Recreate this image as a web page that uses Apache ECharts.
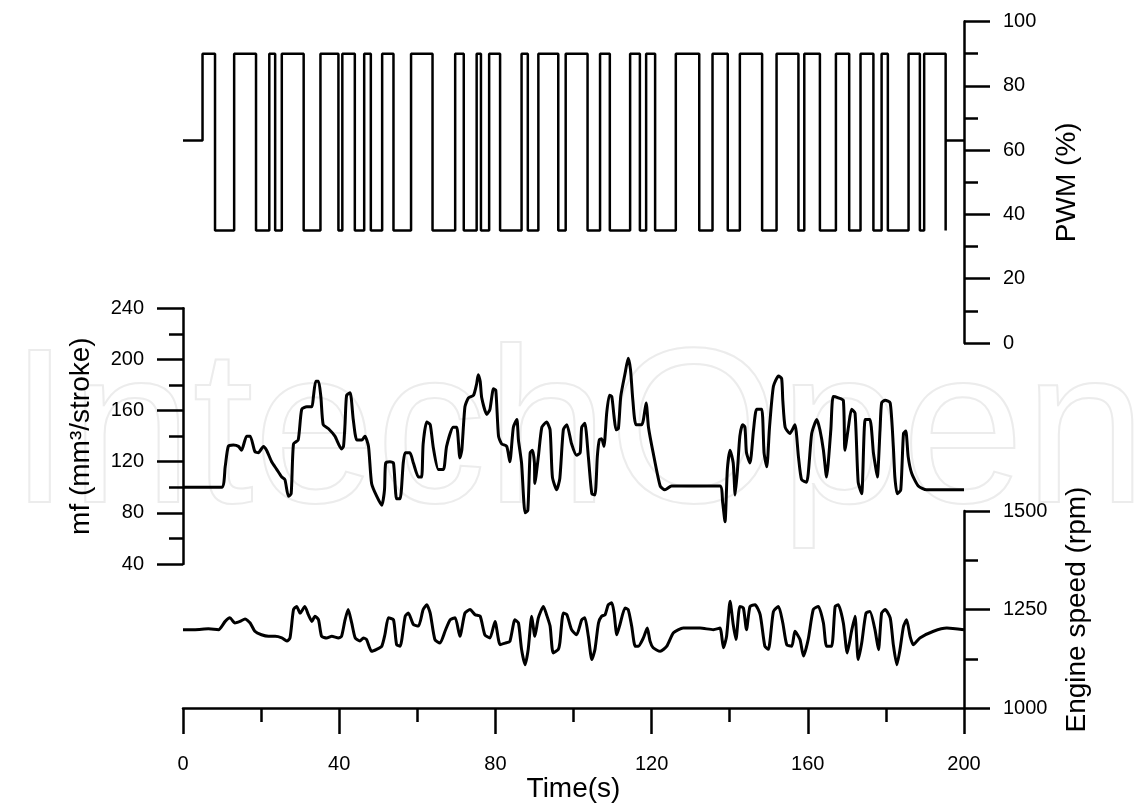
<!DOCTYPE html>
<html>
<head>
<meta charset="utf-8">
<title>PWM, fuel mass and engine speed</title>
<script src="https://cdn.jsdelivr.net/npm/echarts@6/dist/echarts.min.js"></script>
<style>
  html, body { margin: 0; padding: 0; background: #fff; }
  #chart { width: 1140px; height: 804px; }
</style>
</head>
<body>
<div id="chart"></div>
<script>
// PWM duty: value holds from each time until the next one
const pwmTime = [0, 5, 8.2, 13.1, 18.7, 22.1, 23.6, 25.3, 30.9, 35.2, 39.8, 40.8, 44.0, 46.4, 48.1, 51.0,
  53.9, 58.4, 63.9, 69.7, 71.9, 75.2, 76.3, 78.4, 81.2, 86.7, 88.3, 91.0, 96.1, 98.0, 103.6, 106.8,
  109.3, 114.5, 117.0, 118.6, 120.9, 126.2, 132.2, 135.6, 139.5, 142.6, 148.3, 152.0, 157.6, 159.1,
  163.1, 167.2, 170.6, 173.5, 176.8, 178.9, 180.5, 185.8, 188.7, 189.8, 195.3, 195.3, 200]
const pwmValue = [63, 90, 35, 90, 35, 90, 35, 90, 35, 90, 35, 90, 35, 90, 35, 90,
  35, 90, 35, 90, 35, 90, 35, 90, 35, 90, 35, 90, 35, 90, 35, 90,
  35, 90, 35, 90, 35, 90, 35, 90, 35, 90, 35, 90, 35, 90,
  35, 90, 35, 90, 35, 90, 35, 90, 35, 90, 35, 63, 63]

// fuel mass per stroke
const mfTime = [0, 9.9, 10.8, 11.6, 12.9, 14.2, 15.0, 16.3, 17.2, 18.4, 19.3, 20.6, 21.4, 22.7, 24.0, 25.3,
  26.1, 27.0, 27.7, 28.3, 29.5, 30.4, 31.7, 33.0, 33.4, 34.0, 34.7, 35.3, 35.9, 37.2, 38.9, 40.6,
  41.1, 41.5, 41.9, 42.8, 43.6, 44.5, 45.8, 46.6, 47.5, 48.3, 49.6, 50.9, 51.6, 51.9, 53.0, 53.9,
  54.7, 55.6, 56.4, 56.9, 58.1, 59.0, 60.3, 61.1, 61.5, 62.4, 63.3, 64.1, 65.4, 66.7, 67.5, 69.2,
  70.1, 70.9, 71.4, 72.2, 73.1, 74.4, 75.2, 75.6, 76.1, 76.5, 77.8, 78.6, 79.5, 80.1, 80.8, 81.6,
  82.9, 83.7, 84.6, 85.5, 85.9, 86.7, 87.6, 88.3, 88.9, 89.5, 90.0, 90.1, 91.0, 91.9, 93.1, 94.0,
  94.6, 95.7, 96.5, 97.4, 98.3, 99.5, 100.8, 101.7, 102.1, 102.9, 103.8, 104.7, 105.5, 106.1,
  106.6, 107.2, 107.8, 108.5, 109.2, 109.8, 110.4, 110.9, 111.5, 112.1, 113.2, 114.0, 114.6,
  115.2, 116.0, 117.5, 118.6, 119.2, 120.4, 122.2, 123.4, 125.1, 127.3, 137.5, 138.2, 138.8,
  139.4, 140.1, 140.9, 141.4, 142.0, 142.6, 143.3, 143.9, 144.3, 145.2, 146.1, 146.9, 148.2,
  148.8, 149.5, 150.2, 151.2, 152.5, 153.3, 153.6, 154.2, 155.4, 156.7, 157.6, 158.4, 159.7,
  161.0, 162.3, 163.1, 164.0, 164.8, 165.9, 166.5, 167.8, 169.1, 169.5, 170.4, 171.2, 172.1,
  172.9, 173.8, 174.7, 175.9, 176.8, 177.2, 177.8, 178.5, 178.9, 179.8, 181.1, 181.9, 182.3,
  182.9, 183.8, 184.5, 185.1, 185.7, 186.6, 188.3, 190.4, 200]
const mfValue = [100, 100, 116, 132, 133, 132, 129, 140, 140, 128, 127, 132, 129, 120, 114, 108,
  106, 93, 95, 134, 137, 161, 163, 163, 171, 183, 183, 171, 149, 146, 140, 130,
  132, 150, 172, 174, 153, 137, 137, 140, 132, 103, 93, 86, 98, 119, 120, 119,
  91, 91, 119, 127, 127, 119, 108, 108, 134, 151, 149, 131, 114, 114, 132, 147,
  147, 123, 129, 163, 170, 172, 181, 188, 183, 170, 157, 161, 177, 176, 140, 134,
  132, 120, 147, 153, 137, 119, 80, 82, 127, 129, 119, 103, 124, 147, 151, 145,
  108, 98, 107, 145, 149, 134, 125, 127, 147, 150, 124, 95, 94, 124,
  137, 138, 132, 158, 172, 171, 155, 145, 146, 171, 189, 201, 192,
  168, 149, 149, 166, 147, 127, 101, 98, 101, 101, 101, 88, 73,
  114, 129, 119, 94, 114, 140, 149, 147, 127, 119, 145, 161, 161,
  127, 116, 147, 179, 187, 185, 168, 147, 142, 149, 124, 106, 104,
  142, 153, 145, 129, 108, 145, 171, 170, 168, 129, 147, 161, 158,
  104, 95, 153, 153, 127, 119, 108, 145, 166, 168, 166, 132, 108,
  95, 98, 142, 144, 124, 111, 101, 98, 98]

// engine speed
const speedTime = [0, 3.1, 6.5, 9.1, 10.8, 12.0, 13.3, 14.6, 15.9, 17.2, 18.4, 20.1, 21.9, 23.6, 25.3, 26.6,
  27.4, 28.3, 29.1, 30.0, 31.2, 32.1, 33.0, 33.8, 34.7, 35.5, 36.8, 38.1, 39.8, 40.6, 41.5, 42.3,
  43.2, 44.1, 45.3, 46.2, 47.0, 48.3, 49.6, 50.9, 51.7, 52.6, 53.9, 54.7, 55.6, 56.9, 57.7, 59.0,
  60.3, 61.5, 62.4, 63.3, 64.5, 65.8, 67.1, 68.4, 69.7, 70.9, 72.2, 73.5, 74.8, 76.1, 77.3, 78.6,
  79.9, 81.2, 82.5, 83.7, 85.0, 85.9, 86.7, 87.6, 88.4, 89.3, 90.1, 91.0, 92.3, 93.1, 94.0, 94.8,
  96.1, 96.5, 97.4, 98.3, 99.5, 100.8, 102.1, 102.9, 103.8, 104.7, 105.5, 106.4, 107.2, 108.1,
  108.9, 109.8, 110.4, 111.1, 111.9, 113.2, 114.0, 114.9, 115.8, 116.6, 117.9, 118.9, 119.6,
  120.4, 122.2, 123.9, 125.6, 128.1, 132.4, 135.8, 137.5, 138.4, 139.2, 140.1, 140.9, 141.6,
  142.6, 143.5, 144.3, 145.2, 146.5, 147.8, 149.0, 149.9, 151.2, 152.5, 153.6, 154.6, 155.9,
  156.7, 158.0, 158.9, 160.1, 161.4, 162.7, 164.0, 164.8, 166.1, 167.0, 167.8, 169.1, 170.1,
  171.2, 172.1, 172.9, 173.8, 174.9, 175.9, 177.2, 178.1, 178.9, 179.8, 181.1, 181.9, 182.8,
  183.6, 184.5, 185.3, 186.2, 187.0, 188.7, 192.2, 195.6, 200]
const speedValue = [1199, 1199, 1201, 1199, 1220, 1229, 1216, 1220, 1226, 1216, 1195, 1186, 1182, 1182, 1178, 1170,
  1178, 1250, 1258, 1241, 1258, 1237, 1220, 1233, 1224, 1182, 1178, 1182, 1178, 1182, 1224, 1250,
  1216, 1178, 1170, 1178, 1174, 1144, 1149, 1157, 1186, 1229, 1224, 1161, 1157, 1233, 1241, 1212,
  1208, 1250, 1262, 1241, 1174, 1165, 1195, 1224, 1229, 1182, 1241, 1250, 1237, 1233, 1186, 1178,
  1220, 1161, 1165, 1169, 1224, 1216, 1149, 1110, 1149, 1233, 1182, 1229, 1258, 1237, 1208, 1140,
  1149, 1165, 1241, 1237, 1199, 1186, 1224, 1229, 1182, 1123, 1149, 1216, 1233, 1237,
  1262, 1267, 1241, 1186, 1212, 1254, 1250, 1208, 1157, 1157, 1178, 1203, 1170,
  1153, 1144, 1157, 1191, 1203, 1203, 1199, 1203, 1153, 1182, 1271, 1212, 1174,
  1258, 1254, 1199, 1258, 1262, 1237, 1157, 1149, 1245, 1258, 1216, 1161, 1157,
  1195, 1174, 1132, 1174, 1250, 1258, 1216, 1157, 1157, 1258, 1262, 1216, 1140,
  1195, 1233, 1123, 1165, 1241, 1245, 1199, 1148, 1241, 1250, 1229, 1161, 1110,
  1148, 1207, 1224, 1182, 1161, 1178, 1195, 1203, 1199]

const pairs = (xs, ys) => xs.map((x, i) => [x, ys[i]])

const font = '"Liberation Sans", Arial, Helvetica, sans-serif'
const ink = { color: '#000', width: 2.5 }

function axisBase(extra) {
  return Object.assign({
    type: 'value',
    axisLine: { show: true, onZero: false, lineStyle: ink },
    axisTick: { show: true, inside: false, length: 26, lineStyle: ink },
    minorTick: { show: true, splitNumber: 2, length: 14, lineStyle: ink },
    axisLabel: { color: '#000', fontSize: 20, fontFamily: font, margin: 39, formatter: v => String(v) },
    splitLine: { show: false },
    minorSplitLine: { show: false },
    nameLocation: 'middle',
    nameTextStyle: { color: '#000', fontSize: 28, fontFamily: font }
  }, extra)
}

const chart = echarts.init(document.getElementById('chart'))

const option = {
  backgroundColor: '#fff',
  animation: false,
  graphic: [{
    type: 'text',
    left: 8,
    top: 330,
    z: -10,
    silent: true,
    style: {
      text: 'IntechOpen',
      font: '220px "Liberation Sans", Arial, sans-serif',
      fill: 'none',
      stroke: '#ececec',
      lineWidth: 2
    }
  }],
  grid: [
    { left: 183, right: 176, top: 21.5, height: 321.5 },
    { left: 183, right: 176, top: 308.3, height: 255.7 },
    { left: 183, right: 176, top: 511, height: 197.7 }
  ],
  xAxis: [
    { type: 'value', gridIndex: 0, min: 0, max: 200, show: false },
    { type: 'value', gridIndex: 1, min: 0, max: 200, show: false },
    axisBase({
      gridIndex: 2, min: 0, max: 200, interval: 40,
      name: 'Time(s)', nameGap: 62,
      axisLabel: { color: '#000', fontSize: 20, fontFamily: font, margin: 46, formatter: v => String(v) }
    })
  ],
  yAxis: [
    axisBase({
      gridIndex: 0, position: 'right', min: 0, max: 100, interval: 20,
      name: 'PWM (%)', nameGap: 89
    }),
    axisBase({
      gridIndex: 1, position: 'left', min: 40, max: 240, interval: 40,
      name: 'mf (mm³/stroke)', nameGap: 88
    }),
    axisBase({
      gridIndex: 2, position: 'right', min: 1000, max: 1500, interval: 250,
      name: 'Engine speed (rpm)', nameGap: 99
    })
  ],
  series: [
    {
      name: 'PWM',
      type: 'line',
      xAxisIndex: 0,
      yAxisIndex: 0,
      step: 'end',
      showSymbol: false,
      lineStyle: { color: '#000', width: 2.5 },
      data: pairs(pwmTime, pwmValue)
    },
    {
      name: 'mf',
      type: 'line',
      xAxisIndex: 1,
      yAxisIndex: 1,
      smooth: 0.2,
      showSymbol: false,
      lineStyle: { color: '#000', width: 3 },
      data: pairs(mfTime, mfValue)
    },
    {
      name: 'Engine speed',
      type: 'line',
      xAxisIndex: 2,
      yAxisIndex: 2,
      smooth: 0.2,
      showSymbol: false,
      lineStyle: { color: '#000', width: 3 },
      data: pairs(speedTime, speedValue)
    }
  ]
}

chart.setOption(option)
window.addEventListener('resize', () => chart.resize())
</script>
</body>
</html>
